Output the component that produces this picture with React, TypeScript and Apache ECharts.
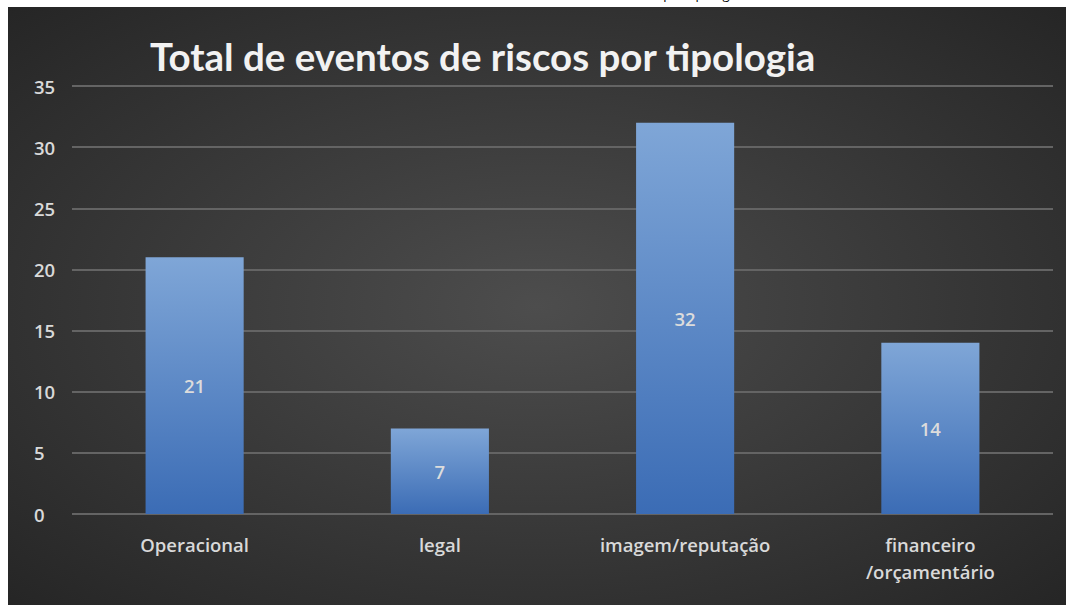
import React, { useEffect, useRef } from "react";
import * as echarts from "echarts";

const titleText = "Total de eventos de riscos por tipologia";
const categories = ["Operacional", "legal", "imagem/reputação", "financeiro\n/orçamentário"];
const values = [21, 7, 32, 14];
const yMin = 0;
const yMax = 35;
const yInterval = 5;

export default function App() {
  const ref = useRef<HTMLDivElement>(null);

  useEffect(() => {
    if (!ref.current) return;
    const chart = echarts.init(ref.current, undefined, { renderer: "svg" });
    chart.setOption({
      animation: false,
      backgroundColor: {
        type: "radial",
        x: 0.5,
        y: 0.5,
        r: 0.75,
        colorStops: [
          { offset: 0, color: "#4d4d4d" },
          { offset: 1, color: "#232323" },
        ],
      },
      title: {
        text: titleText,
        left: 137,
        top: 24,
        textStyle: {
          color: "#f2f2f2",
          fontFamily: "Lato",
          fontWeight: "bold",
          fontSize: 38.5,
        },
      },
      grid: { left: 64, right: 13, top: 79, bottom: 91, containLabel: false },
      xAxis: {
        type: "category",
        data: categories,
        axisLine: { show: false },
        axisTick: { show: false },
        axisLabel: {
          color: "#d9d9d9",
          fontFamily: "Open Sans",
          fontWeight: 600,
          fontSize: 18.5,
          margin: 17,
          lineHeight: 27,
          interval: 0,
        },
      },
      yAxis: {
        type: "value",
        min: yMin,
        max: yMax,
        interval: yInterval,
        axisLine: { show: false },
        axisTick: { show: false },
        splitLine: { lineStyle: { color: "#646464", width: 2 } },
        axisLabel: {
          color: "#d9d9d9",
          fontFamily: "Open Sans",
          fontWeight: 600,
          fontSize: 18.5,
          align: "left",
          margin: 38,
        },
      },
      series: [
        {
          type: "bar",
          data: values,
          barWidth: "40%",
          itemStyle: {
            color: {
              type: "linear",
              x: 0,
              y: 0,
              x2: 0,
              y2: 1,
              colorStops: [
                { offset: 0, color: "#7fa6d7" },
                { offset: 1, color: "#3b6cb5" },
              ],
              global: false,
            },
          },
          label: {
            show: true,
            position: "inside",
            color: "#dcdcdc",
            fontFamily: "Open Sans",
            fontWeight: 600,
            fontSize: 18.5,
          },
        },
      ],
    });
    return () => chart.dispose();
  }, []);

  return (
    <div
      style={{
        position: "absolute",
        left: 0,
        top: 0,
        width: 1074,
        height: 605,
        background: "#ffffff",
        overflow: "hidden",
      }}
    >
      <div
        style={{
          position: "absolute",
          left: 500,
          width: 240,
          top: -12,
          textAlign: "right",
          fontFamily: "Open Sans",
          fontSize: 13,
          lineHeight: "13px",
          color: "#000",
          whiteSpace: "nowrap",
        }}
      >
        {titleText}
      </div>
      <div
        ref={ref}
        style={{ position: "absolute", left: 8, top: 7, width: 1058, height: 598 }}
      />
    </div>
  );
}
